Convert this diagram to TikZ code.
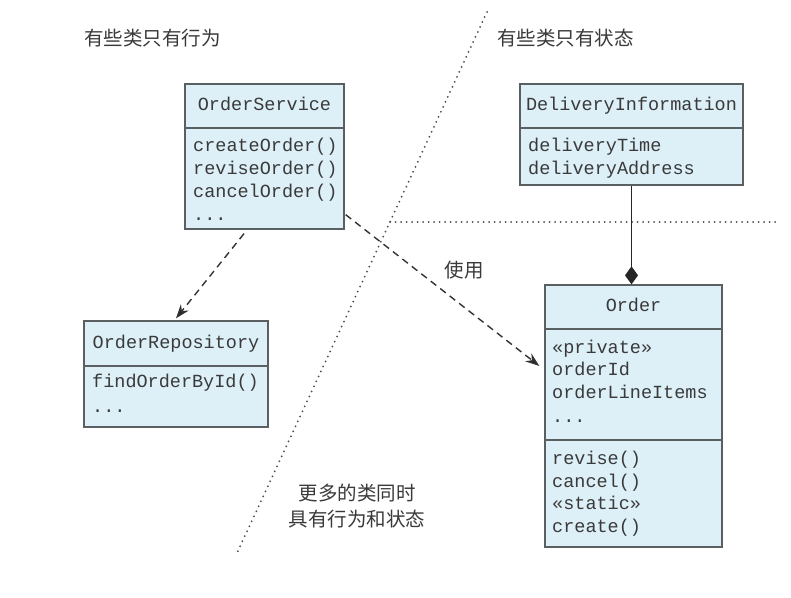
\documentclass[tikz,border=0pt]{standalone}
\usepackage{fontspec}
\setmonofont{Liberation Mono}
\newfontfamily\cjk{Noto Sans CJK SC}
\usetikzlibrary{arrows.meta,calc}
\definecolor{boxfill}{HTML}{DDF0F8}
\definecolor{boxline}{HTML}{5A5F62}
\definecolor{txt}{HTML}{3A3A3A}
\tikzset{
  classbox/.style={draw=boxline, line width=1.3pt, fill=boxfill, inner sep=0pt},
  divider/.style={draw=boxline, line width=1.3pt},
  hd/.style={inner sep=0pt, text=txt, font=\ttfamily\fontsize{18.5}{22}\selectfont, text height=11pt, text depth=3pt},
  mb/.style={hd, anchor=west},
  cjktext/.style={inner sep=0pt, text=txt, font=\cjk\fontsize{19.5}{26}\selectfont},
  dep/.style={draw=black!80, line width=1.4pt, dash pattern=on 7pt off 5pt, -{Stealth[length=14pt,width=10pt,fill=black!85]}},
  comp/.style={draw=black!85, line width=1.3pt, -{Diamond[length=18pt,width=13pt]}},
  dotline/.style={draw=black!70, line width=2pt, dash pattern=on 0pt off 5.5pt, line cap=round},
}
\begin{document}
\begin{tikzpicture}[x=1pt,y=-1pt]
\useasboundingbox[fill=white] (0,0) rectangle (791,597);

% separator lines
\draw[dotline] (487,12) -- (237,553);
\draw[dotline] (390,222) -- (775,222);

% titles
\node[cjktext, anchor=west] (t1) at (84,38) {有些类只有行为};
\node[cjktext, anchor=west] (t2) at (497,38) {有些类只有状态};
\node[cjktext, align=center] (t3) at (357,506) {更多的类同时\\具有行为和状态};

% OrderService
\node[classbox, minimum width=159pt, minimum height=145pt] (os) at (264.5,156.5) {};
\draw[divider] (185,128) -- (344,128);
\node[hd] (osh) at (264.5,106) {OrderService};
\node[mb] (os1) at (193,147) {createOrder()};
\node[mb] (os2) at (193,170) {reviseOrder()};
\node[mb] (os3) at (193,193) {cancelOrder()};
\node[mb] (os4) at (193,216) {...};

% DeliveryInformation
\node[classbox, minimum width=223pt, minimum height=101pt] (di) at (631.5,134.5) {};
\draw[divider] (520,128) -- (743,128);
\node[hd] (dih) at (631.5,106) {DeliveryInformation};
\node[mb] (di1) at (528,147) {deliveryTime};
\node[mb] (di2) at (528,170) {deliveryAddress};

% OrderRepository
\node[classbox, minimum width=184pt, minimum height=106pt] (repo) at (176,374) {};
\draw[divider] (84,366) -- (268,366);
\node[hd] (repoh) at (176,344) {OrderRepository};
\node[mb] (repo1) at (92,383) {findOrderById()};
\node[mb] (repo2) at (92,408) {...};

% Order
\node[classbox, minimum width=177pt, minimum height=262pt] (ord) at (633.5,416) {};
\draw[divider] (545,329) -- (722,329);
\draw[divider] (545,440) -- (722,440);
\node[hd] (ordh) at (633.5,307) {Order};
\node[mb] (o1) at (552,349) {«private»};
\node[mb] (o2) at (552,371) {orderId};
\node[mb] (o3) at (552,394) {orderLineItems};
\node[mb] (o4) at (552,418) {...};
\node[mb] (o5) at (552,460) {revise()};
\node[mb] (o6) at (552,483) {cancel()};
\node[mb] (o7) at (552,505) {«static»};
\node[mb] (o8) at (552,528) {create()};

% connectors
\draw[dep] ($(os.south)+(-20.5,4)$) -- ($(repo.north)+(0,-2)$);
\draw[dep] ($(os.south east)+(1,-15)$) -- ($(ord.west)+(-5,-50)$);
\node[cjktext] (use) at (464,270) {使用};
\draw[comp] (di.south) -- (di.south |- ord.north);
\end{tikzpicture}
\end{document}
